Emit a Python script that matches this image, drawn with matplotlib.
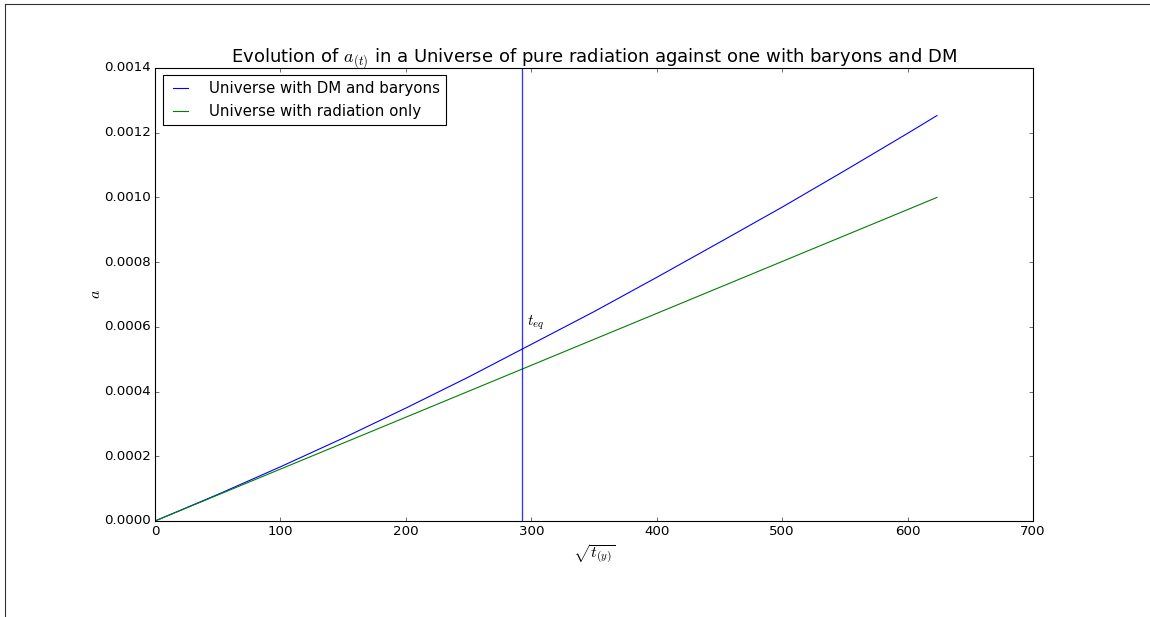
import matplotlib
matplotlib.use("Agg")
import matplotlib.pyplot as plt
from matplotlib.lines import Line2D

# sqrt(t) values (x axis)
sqrt_t = [0, 50, 100, 150, 200, 250, 300, 350, 400, 450, 500, 550, 600, 623.4]
# scale factor, universe with DM and baryons
a_matter = [0, 0.0000820, 0.0001675, 0.0002562, 0.000349, 0.000445, 0.000546,
            0.000647, 0.000753, 0.000861, 0.000970, 0.001083, 0.001198, 0.001253]
# scale factor, radiation only
a_rad = [0, 0.0000802, 0.0001604, 0.0002406, 0.0003208, 0.000401, 0.0004812,
         0.0005614, 0.0006416, 0.0007218, 0.000802, 0.0008822, 0.0009624, 0.001]
t_eq = 292.6

plt.style.use('classic')
plt.rcParams['savefig.facecolor'] = 'white'

fig = plt.figure(figsize=(14.375, 7.7125), dpi=80, facecolor='white')
ax = fig.add_axes([0.1348, 0.1556, 0.7635, 0.7342])

ax.plot(sqrt_t, a_matter, color='b', lw=1, label='Universe with DM and baryons')
ax.plot(sqrt_t, a_rad, color='g', lw=1, label='Universe with radiation only')
ax.axvline(t_eq, color='b', lw=1.2, alpha=0.8)
ax.text(t_eq + 4, 0.000605, r'$t_{eq}$', fontsize=14)

ax.set_xlim(0, 700)
ax.set_ylim(0, 0.0014)
ax.set_xticks(range(0, 701, 100))
ax.set_yticks([i * 0.0002 for i in range(8)])
ax.set_title(r'Evolution of $a_{(t)}$ in a Universe of pure radiation against one with baryons and DM',
             fontsize=16.2)
ax.set_xlabel(r'$\sqrt{t_{(y)}}$', fontsize=14.4, labelpad=3)
ax.set_ylabel(r'$a$', fontsize=14.4, labelpad=1)
ax.legend(loc='upper left', fontsize=13.5, handlelength=1.6, handletextpad=1.1)

# frame edges of the original canvas
fig.add_artist(Line2D([0.0043, 1.0], [0.9943, 0.9943], color='#333333', lw=1))
fig.add_artist(Line2D([0.0043, 0.0043], [0.0, 0.9943], color='#333333', lw=1))

fig.savefig('out.png', dpi=80)
